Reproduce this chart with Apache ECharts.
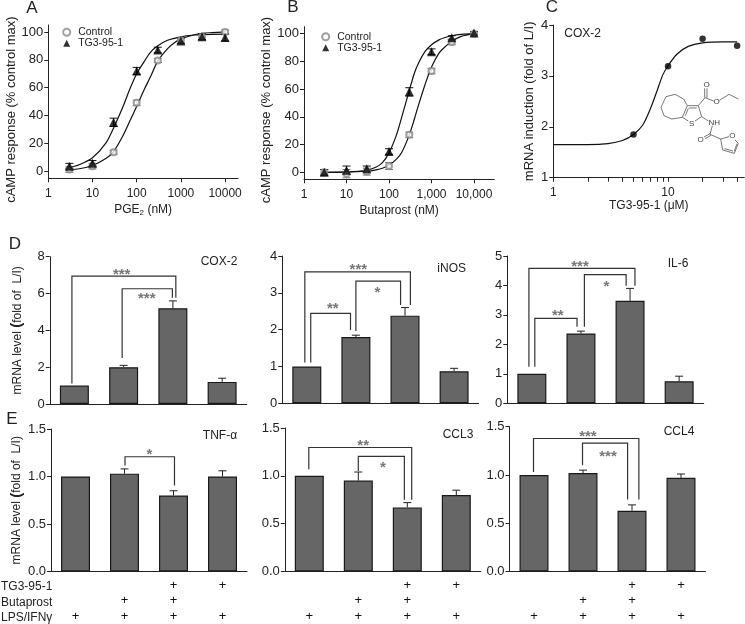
<!DOCTYPE html>
<html>
<head>
<meta charset="utf-8">
<style>html,body{margin:0;background:#fff}#main{width:745px;height:624px}</style>
<script src="https://cdn.jsdelivr.net/npm/echarts@6/dist/echarts.min.js"></script>
</head>
<body>
<div id="main"></div>
<script>
// panel A
const doseA = [3, 10, 30, 100, 300, 1000, 3000, 10000];
const controlA = [1, 3.5, 13.5, 49, 79.5, 94, 96.5, 100];
const controlErrA = [2, 2, 1.5, 2, 1.5, 2, 2, 1.5];
const tgA = [3.5, 5.5, 35, 72, 87, 93.5, 96.5, 96];
const tgErrA = [2, 2, 3, 2.5, 2, 2, 2, 2.5];
const curveControlA = [[3,1],[5,1.6],[10,4],[20,9],[30,14],[50,26],[70,36],[100,46.5],[150,59],[200,67],[300,79],[500,88],[700,92],[1000,95],[2000,98],[3000,99],[5000,99.5],[10000,100]];
const curveTgA = [[3,2.5],[5,4.5],[10,9.5],[20,20],[30,31],[50,47],[70,59],[100,70],[150,79],[200,85],[300,90],[500,94],[1000,96.5],[2000,97.8],[3000,98],[10000,98.5]];
// panel B
const doseB = [3, 10, 30, 100, 300, 1000, 3000, 10000];
const controlB = [0, -1, 0.5, 4.5, 27, 73, 94, 100];
const controlErrB = [2, 3, 2.5, 2.5, 2, 2, 2, 1];
const tgB = [0, 1.5, 2.5, 15, 58, 87, 97, 100.5];
const tgErrB = [2, 3, 2, 2, 3, 2, 1.5, 1];
const curveControlB = [[3,0],[10,0.1],[30,0.8],[50,1.8],[70,2.9],[100,5.2],[150,9.5],[200,14.5],[300,27],[400,39],[500,49],[700,63],[1000,76],[1500,86],[2000,90],[3000,94.5],[5000,98],[10000,100]];
const curveTgB = [[3,0],[10,0.3],[30,1.5],[50,3.8],[70,7],[100,14],[150,27],[200,40],[300,59],[400,72],[500,79],[700,87],[1000,92],[1500,95.5],[2000,97],[3000,98.5],[5000,99.5],[10000,100]];
// panel C
const doseC = [5, 10, 20, 40];
const mrnaC = [1.85, 3.19, 3.73, 3.59];
const curveC = [[1,1.65],[2,1.65],[3,1.67],[4,1.73],[5,1.85],[6,2.03],[7,2.35],[8,2.7],[9,3.02],[10,3.2],[12,3.43],[15,3.58],[20,3.65],[30,3.67],[40,3.67]];
// bars
const cox2 = [1, 2, 5.2, 1.2], cox2Err = [0, 0.1, 0.4, 0.2];
const inos = [1, 1.8, 2.38, 0.87], inosErr = [0, 0.05, 0.22, 0.08];
const il6 = [1, 2.37, 3.48, 0.75], il6Err = [0, 0.08, 0.42, 0.17];
const tnf = [1, 1.03, 0.8, 1], tnfErr = [0, 0.05, 0.05, 0.06];
const ccl3 = [1, 0.95, 0.67, 0.8], ccl3Err = [0, 0.09, 0.05, 0.05];
const ccl4 = [1, 1.02, 0.63, 0.97], ccl4Err = [0, 0.03, 0.06, 0.04];
// x1, y1, x2, y2, top of each bracket
const cox2Brackets = [[-0.05,1.12,2.06,5.77,6.95],[0.97,2.5,1.99,5.77,6.26]];
const inosBrackets = [[-0.04,1.11,2.11,2.67,3.57],[0.08,1.11,0.89,1.99,2.44],[1,1.96,1.91,2.67,3.32]];
const il6Brackets = [[-0.06,1.24,2.1,3.99,4.58],[0.06,1.24,0.92,2.6,2.88],[1.07,2.6,1.92,3.99,4.37]];
const tnfBrackets = [[1.01,1.116,2.02,0.906,1.208]];
const ccl3Brackets = [[-0.01,1.07,2.09,0.75,1.296],[1,1.05,1.94,0.75,1.204]];
const ccl4Brackets = [[-0.01,1.03,2.14,0.747,1.378],[0.99,1.1,1.91,0.747,1.33]];
const cox2Stars = [[0.96,7.17,'***'],[1.47,5.88,'***']];
const inosStars = [[1.05,3.71,'***'],[0.53,2.64,'**'],[1.44,3.08,'*']];
const il6Stars = [[0.98,4.75,'***'],[0.53,3.08,'**'],[1.52,4.04,'*']];
const tnfStars = [[1.51,1.26,'*']];
const ccl3Stars = [[1.1,1.34,'**'],[1.5,1.11,'*']];
const ccl4Stars = [[1.1,1.43,'***'],[1.51,1.22,'***']];
// treatment rows under the bars
const tgRow = ['', '', '+', '+'];
const butaRow = ['', '+', '+', ''];
const lpsRow = ['+', '+', '+', '+'];
const treatments = tgRow.map((v, i) => v + '\n' + butaRow[i] + '\n' + lpsRow[i]);
// ticks
const logTicks = [1, 10, 100, 1000, 10000];
const cTicks = [1, 2, 3, 4, 5, 6, 7, 8, 9, 10, 20, 30, 40];
const cLabels = [1, 10];
const pctTicks = [0, 20, 40, 60, 80, 100];

const FONT = '"Liberation Sans", Arial, sans-serif';
const INK = '#222';

function errorBars(xAxisIndex, yAxisIndex, xs, ys, errs, color, upOnly) {
    return {
        type: 'custom', xAxisIndex, yAxisIndex, silent: true, clip: false,
        encode: {x: 0, y: 1},
        data: xs.map((x, i) => [x, ys[i], errs[i]]),
        renderItem(params, api) {
            const x = api.value(0), y = api.value(1), e = api.value(2);
            if (!e) return {type: 'group', children: []};
            const hi = api.coord([x, y + e]), lo = api.coord([x, upOnly ? y : y - e]);
            const st = {stroke: color, lineWidth: 1, fill: null};
            const kids = [
                {type: 'line', shape: {x1: hi[0], y1: hi[1], x2: lo[0], y2: lo[1]}, style: st},
                {type: 'line', shape: {x1: hi[0] - 4, y1: hi[1], x2: hi[0] + 4, y2: hi[1]}, style: st}
            ];
            if (!upOnly) kids.push({type: 'line', shape: {x1: lo[0] - 4, y1: lo[1], x2: lo[0] + 4, y2: lo[1]}, style: st});
            return {type: 'group', children: kids};
        }
    };
}

function brackets(xAxisIndex, yAxisIndex, rows) {
    return {
        type: 'custom', xAxisIndex, yAxisIndex, silent: true, clip: false,
        encode: {x: 0, y: 1},
        data: rows,
        renderItem(params, api) {
            const t = api.value(4);
            const pts = [[api.value(0), api.value(1)], [api.value(0), t], [api.value(2), t], [api.value(2), api.value(3)]].map(p => api.coord(p));
            return {type: 'polyline', shape: {points: pts}, style: {stroke: '#333', lineWidth: 1.2, fill: null}};
        }
    };
}

function stars(xAxisIndex, yAxisIndex, rows) {
    return {
        type: 'custom', xAxisIndex, yAxisIndex, silent: true, clip: false,
        encode: {x: 0, y: 1},
        dimensions: ['x', 'y', {name: 't', type: 'ordinal'}],
        data: rows,
        renderItem(params, api) {
            const p = api.coord([api.value(0), api.value(1)]);
            return {type: 'text', x: p[0], y: p[1] + 3, style: {
                text: rows[params.dataIndex][2], font: 'bold 15px ' + FONT, fill: '#777',
                align: 'center', verticalAlign: 'middle'
            }};
        }
    };
}

const grids = [], xAxes = [], yAxes = [], series = [];

function doseResponse(g, ax) {
    const idx = grids.length;
    grids.push({left: g.left, top: g.top, width: g.width, height: g.height});
    xAxes.push({
        type: 'log', gridIndex: idx, min: 1, max: ax.xMax, position: 'bottom',
        name: ax.xName, nameLocation: 'middle', nameGap: ax.xGap,
        nameTextStyle: {fontFamily: FONT, fontSize: 12, color: INK, rich: {s: {fontSize: 8, verticalAlign: 'bottom', fontFamily: FONT, color: INK, padding: [6, 0, 0, 0]}}},
        axisLine: {onZero: false, lineStyle: {color: INK}},
        axisTick: {show: true, length: 4, inside: false, customValues: ax.ticks, lineStyle: {color: INK}},
        axisLabel: {customValues: ax.labels, formatter: ax.fmt, fontFamily: FONT, fontSize: 12, color: INK, margin: 9},
        splitLine: {show: false}, minorTick: {show: false}
    });
    yAxes.push({
        type: 'value', gridIndex: idx, min: ax.yMin, max: ax.yMax,
        name: ax.yName, nameLocation: 'middle', nameGap: ax.yGap,
        nameTextStyle: {fontFamily: FONT, fontSize: 13, color: INK, padding: ax.yPad},
        axisLine: {onZero: false, show: true, lineStyle: {color: INK}},
        axisTick: {show: true, length: 4, customValues: ax.yTicks, lineStyle: {color: INK}},
        axisLabel: {customValues: ax.yTicks, fontFamily: FONT, fontSize: 13, color: INK, margin: 5},
        splitLine: {show: false}
    });
    return idx;
}

function curve(idx, data) {
    series.push({type: 'line', xAxisIndex: idx, yAxisIndex: idx, data, smooth: 0.3, showSymbol: false, silent: true,
        lineStyle: {color: '#111', width: 1.2}, clip: false});
}
function points(idx, name, xs, ys, symbol, size, style) {
    series.push({type: 'scatter', name, xAxisIndex: idx, yAxisIndex: idx, data: xs.map((x, i) => [x, ys[i]]),
        symbol, symbolSize: size, itemStyle: style, clip: false, z: 5});
}

const commaFmt = v => String(Math.round(v)).replace(/\B(?=(\d{3})+$)/g, ',');

// A
const a = doseResponse({left: 48.3, top: 25, width: 189.7, height: 153.3}, {
    xMax: 19590, xName: 'PGE{s|2} (nM)', xGap: 24, ticks: logTicks, labels: logTicks, fmt: v => String(Math.round(v)),
    yMin: -5.25, yMax: 105, yName: 'cAMP response (% control max)', yGap: 25, yTicks: pctTicks, yPad: [0, 16, 0, 0]
});
curve(a, curveControlA); curve(a, curveTgA);
series.push(errorBars(a, a, doseA, controlA, controlErrA, '#777', false));
series.push(errorBars(a, a, doseA, tgA, tgErrA, '#111', false));
points(a, 'Control', doseA, controlA, 'emptyCircle', 6, {color: '#888', borderWidth: 0.8});
points(a, 'TG3-95-1', doseA, tgA, 'triangle', 9, {color: '#000'});

// B
const b = doseResponse({left: 304, top: 26.7, width: 190.3, height: 152.6}, {
    xMax: 30000, xName: 'Butaprost (nM)', xGap: 25, ticks: logTicks, labels: logTicks, fmt: commaFmt,
    yMin: -5.05, yMax: 105, yName: 'cAMP response (% control max)', yGap: 24, yTicks: pctTicks, yPad: [0, 14, 0, 0]
});
curve(b, curveControlB); curve(b, curveTgB);
series.push(errorBars(b, b, doseB, controlB, controlErrB, '#777', false));
series.push(errorBars(b, b, doseB, tgB, tgErrB, '#111', false));
points(b, 'Control', doseB, controlB, 'emptyCircle', 6, {color: '#888', borderWidth: 0.8});
points(b, 'TG3-95-1', doseB, tgB, 'triangle', 9, {color: '#000'});

// C
const c = doseResponse({left: 553.3, top: 25, width: 191, height: 152.7}, {
    xMax: 46.2, xName: 'TG3-95-1 (μM)', xGap: 21, ticks: cTicks, labels: cLabels, fmt: v => String(Math.round(v)),
    yMin: 1, yMax: 4, yName: 'mRNA induction (fold of L/I)', yGap: 17, yTicks: [1, 2, 3, 4], yPad: 0
});
curve(c, curveC);
points(c, 'COX-2', doseC, mrnaC, 'circle', 6.5, {color: '#000'});

const MRNA = 'mRNA level {b|(}fold of  L/I)';
const barPanels = [
    {vals: cox2, errs: cox2Err, br: cox2Brackets, st: cox2Stars, left: 49.75, top: 256.7, h: 147.3, w: 197, max: 8, iv: 2, dec: 0, name: MRNA},
    {vals: inos, errs: inosErr, br: inosBrackets, st: inosStars, left: 282.25, top: 256, h: 147.3, w: 196.4, max: 4, iv: 1, dec: 0},
    {vals: il6, errs: il6Err, br: il6Brackets, st: il6Stars, left: 507.3, top: 256, h: 147.3, w: 196.4, max: 5, iv: 1, dec: 0},
    {vals: tnf, errs: tnfErr, br: tnfBrackets, st: tnfStars, left: 51, top: 429, h: 147.3, w: 196, max: 1.5, iv: 0.5, dec: 1, name: MRNA, rows: true},
    {vals: ccl3, errs: ccl3Err, br: ccl3Brackets, st: ccl3Stars, left: 284.8, top: 428, h: 147, w: 196, max: 1.5, iv: 0.5, dec: 1, rows: true},
    {vals: ccl4, errs: ccl4Err, br: ccl4Brackets, st: ccl4Stars, left: 509.5, top: 426.7, h: 147.3, w: 196, max: 1.5, iv: 0.5, dec: 1, rows: true}
];
barPanels.forEach(p => {
    const idx = grids.length;
    grids.push({left: p.left, top: p.top, width: p.w, height: p.h});
    xAxes.push({
        type: 'category', gridIndex: idx, data: treatments,
        axisLine: {lineStyle: {color: INK}}, axisTick: {show: false},
        axisLabel: {show: !!p.rows, interval: 0, fontFamily: FONT, fontSize: 13, color: '#111', lineHeight: 15.5, margin: 6, verticalAlign: 'top'}
    });
    yAxes.push({
        type: 'value', gridIndex: idx, min: 0, max: p.max, interval: p.iv,
        name: p.name || '', nameLocation: 'middle', nameGap: 25,
        nameTextStyle: {fontFamily: FONT, fontSize: 12, color: INK, rich: {b: {fontFamily: FONT, fontWeight: 'bold', fontSize: 15, color: INK}}},
        axisLine: {show: true, onZero: false, lineStyle: {color: INK}},
        axisTick: {show: true, length: 4, lineStyle: {color: INK}},
        axisLabel: {formatter: v => v.toFixed(p.dec), fontFamily: FONT, fontSize: 13, color: INK, margin: 5},
        splitLine: {show: false}
    });
    series.push({type: 'bar', xAxisIndex: idx, yAxisIndex: idx, data: p.vals, barWidth: 29, silent: true,
        itemStyle: {color: '#666', borderColor: '#1a1a1a', borderWidth: 1.2}});
    series.push(errorBars(idx, idx, [0, 1, 2, 3], p.vals, p.errs, '#222', true));
    p.xi = idx;
});
// hidden value axis on each bar grid, for the brackets and stars
barPanels.forEach((p, i) => {
    const xi = xAxes.length;
    xAxes.push({type: 'value', gridIndex: p.xi, min: -0.5, max: 3.5, show: false, splitLine: {show: false}});
    series.push(brackets(xi, p.xi, p.br));
    series.push(stars(xi, p.xi, p.st));
});

// structure of TG3-95-1, as drawn over panel C
const molLines = [
    [[97,92],[86,72],[60,58],[33,65],[18,97],[27,122],[50,132],[82,127],[97,92]],
    [[97,92],[130,92],[140,125],[120,138]], [[82,127],[100,138]], [[102,99],[125,99]], [[91,122],[100,100]],
    [[130,92],[150,68]], [[149,68],[149,40]], [[156,68],[156,40]], [[150,68],[176,78]],
    [[193,76],[222,58],[250,72]], [[140,125],[160,138]], [[172,152],[165,178]],
    [[165,176],[147,186]], [[168,181],[150,191]], [[165,178],[197,192]],
    [[197,192],[203,225],[238,235],[250,205],[240,195]], [[222,185],[197,192]], [[208,221],[234,228]], [[238,228],[246,206]]
];
const molText = [['O',155,30],['O',185,80],['S',110,147],['NH',178,142],['O',137,194],['O',232,183]];
const molX = v => 655 + v / 3, molY = v => 75 + v / 3;

const t = (text, x, y, size, align) => ({type: 'text', silent: true, x, y, style: {text, font: size + 'px ' + FONT, fill: INK, align: align || 'center', verticalAlign: 'middle'}});
const graphic = [
    t('A', 32, 8, 17), t('B', 293, 7, 17), t('C', 552, 7, 17), t('D', 15, 244, 17), t('E', 12, 419, 17),
    t('COX-2', 582.7, 34, 12), t('COX-2', 219, 262, 12), t('iNOS', 451.7, 268.7, 12), t('IL-6', 678, 264, 12),
    t('TNF-α', 220, 435.7, 12), t('CCL3', 458, 434.7, 12), t('CCL4', 679, 432, 12),
    t('TG3-95-1', 1, 587, 12, 'left'), t('Butaprost', 1, 603, 12, 'left'), t('LPS/IFNγ', 1, 618, 12, 'left')
];
molLines.forEach(l => graphic.push({type: 'polyline', silent: true, shape: {points: l.map(q => [molX(q[0]), molY(q[1])])}, style: {stroke: '#555', lineWidth: 0.8, fill: null}}));
molText.forEach(m => { const g = t(m[0], molX(m[1]), molY(m[2]), 8); g.style.fill = '#444'; graphic.push(g); });

const legendText = {fontFamily: FONT, fontSize: 10.5, color: INK, padding: [0, 0, 0, 3]};
const option = {
    animation: false,
    grid: grids, xAxis: xAxes, yAxis: yAxes, series, graphic,
    legend: [
        {data: ['Control', 'TG3-95-1'], orient: 'vertical', left: 62.2, top: 26.7, padding: 0, itemWidth: 7, itemHeight: 7, itemGap: 0, selectedMode: false, textStyle: legendText},
        {data: ['Control', 'TG3-95-1'], orient: 'vertical', left: 321.2, top: 31.3, padding: 0, itemWidth: 7, itemHeight: 7, itemGap: 0, selectedMode: false, textStyle: legendText}
    ]
};
const myChart = echarts.init(document.getElementById('main'));
myChart.setOption(option);
</script>
</body>
</html>
